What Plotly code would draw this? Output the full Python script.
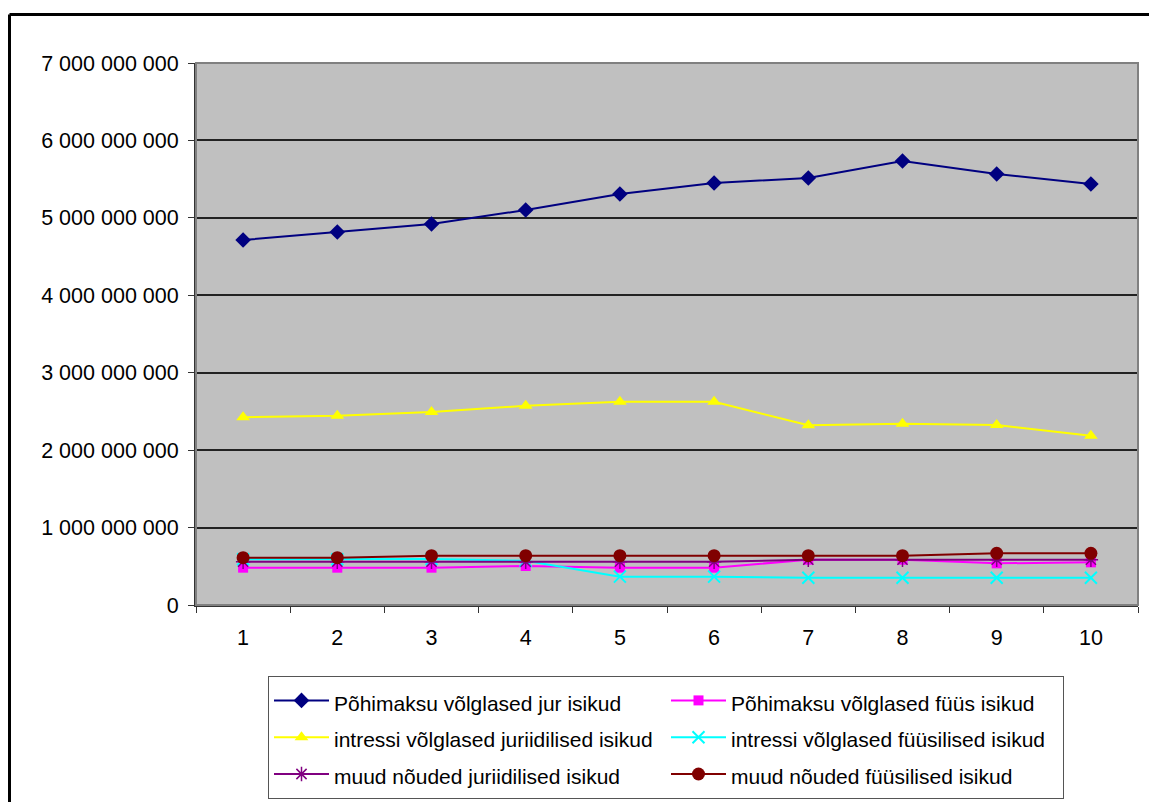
import plotly.graph_objects as go

categories = ["1", "2", "3", "4", "5", "6", "7", "8", "9", "10"]

pohimaksu_jur = [4714e6, 4817e6, 4921e6, 5101e6, 5308e6, 5450e6, 5515e6, 5734e6, 5566e6, 5437e6]
pohimaksu_fuus = [482e6, 482e6, 482e6, 504e6, 482e6, 482e6, 585e6, 585e6, 538e6, 551e6]
intressi_jur = [2424e6, 2445e6, 2493e6, 2574e6, 2626e6, 2626e6, 2321e6, 2341e6, 2325e6, 2187e6]
intressi_fuus = [590e6, 590e6, 594e6, 572e6, 366e6, 366e6, 353e6, 353e6, 353e6, 353e6]
muud_jur = [559e6, 559e6, 559e6, 559e6, 559e6, 559e6, 585e6, 585e6, 585e6, 585e6]
muud_fuus = [611e6, 611e6, 637e6, 637e6, 637e6, 637e6, 637e6, 637e6, 667e6, 667e6]

series_names = [
    "Põhimaksu võlglased jur isikud",
    "Põhimaksu võlglased füüs isikud",
    "intressi võlglased juriidilised isikud",
    "intressi võlglased füüsilised isikud",
    "muud nõuded juriidilised isikud",
    "muud nõuded füüsilised isikud",
]
y_ticks = [0, 1e9, 2e9, 3e9, 4e9, 5e9, 6e9, 7e9]

styles = [
    dict(color="#000080", symbol="diamond", size=12, mline=0),
    dict(color="#FF00FF", symbol="square", size=10, mline=0),
    dict(color="#FFFF00", symbol="triangle-up", size=12, mline=0),
    dict(color="#00FFFF", symbol="x-thin", size=12, mline=2),
    dict(color="#800080", symbol="asterisk", size=12, mline=1.5),
    dict(color="#800000", symbol="circle", size=13, mline=0),
]
data = [pohimaksu_jur, pohimaksu_fuus, intressi_jur, intressi_fuus, muud_jur, muud_fuus]

fig = go.Figure()
for name, vals, st in zip(series_names, data, styles):
    fig.add_trace(go.Scatter(
        x=categories, y=vals, name='<span style="font-size:21px">' + name + '</span>',
        mode="lines+markers",
        line=dict(color=st["color"], width=2),
        marker=dict(symbol=st["symbol"], size=st["size"], color=st["color"],
                    line=dict(color=st["color"], width=st["mline"])),
    ))

font_family = "Liberation Sans, Arial, sans-serif"

# page has an 8px body margin; plot area targeted at page x 196..1138, y 63..605
L, R, T, B = 188, 11, 55, 197
W, H = 1141, 794
PW = W - L - R  # 942
PH = H - T - B  # 542

bx = (1.5 - L) / PW          # outer frame left (paper coords)
by = (PH + T - 6.5) / PH     # outer frame top (paper coords)

fig.update_layout(
    width=W, height=H,
    margin=dict(l=L, r=R, t=T, b=B, autoexpand=False),
    paper_bgcolor="white",
    plot_bgcolor="#C0C0C0",
    separators=". ",
    font=dict(family=font_family, size=21, color="black"),
    showlegend=True,
    legend=dict(
        orientation="h",
        x=(268 - 196) / PW, y=(605 - 676) / PH,
        xanchor="left", yanchor="top",
        bordercolor="#555555", borderwidth=1,
        bgcolor="white",
        font=dict(family=font_family, size=26, color="black"),
        itemwidth=55,
        entrywidth=327, entrywidthmode="pixels",
        traceorder="normal",
    ),
    xaxis=dict(
        type="category",
        categoryorder="array", categoryarray=categories,
        tickson="boundaries",
        ticks="outside", ticklen=6, tickcolor="#333333", tickwidth=1,
        showline=True, linecolor="#333333", linewidth=2,
        showgrid=False, zeroline=False,
        ticklabelstandoff=12,
        tickfont=dict(size=21.5),
        range=[-0.5, 9.5],
    ),
    yaxis=dict(
        range=[0, 7e9],
        tickvals=y_ticks,
        tickformat=",d",
        ticks="outside", ticklen=6, tickcolor="#333333", tickwidth=1,
        showline=True, linecolor="#333333", linewidth=2,
        showgrid=True, gridcolor="#222222", gridwidth=1.5,
        zeroline=False,
        ticklabelstandoff=5,
        tickfont=dict(size=21.5),
    ),
    shapes=[
        dict(type="rect", xref="paper", yref="paper", x0=0, x1=1, y0=0, y1=1,
             line=dict(color="#808080", width=2),
             fillcolor="rgba(0,0,0,0)", layer="above"),
        dict(type="line", xref="paper", yref="paper",
             x0=bx, x1=1.3, y0=by, y1=by,
             line=dict(color="black", width=3)),
        dict(type="line", xref="paper", yref="paper",
             x0=bx, x1=bx, y0=-0.6, y1=by,
             line=dict(color="black", width=3)),
    ],
)

fig.write_html("out.html")
